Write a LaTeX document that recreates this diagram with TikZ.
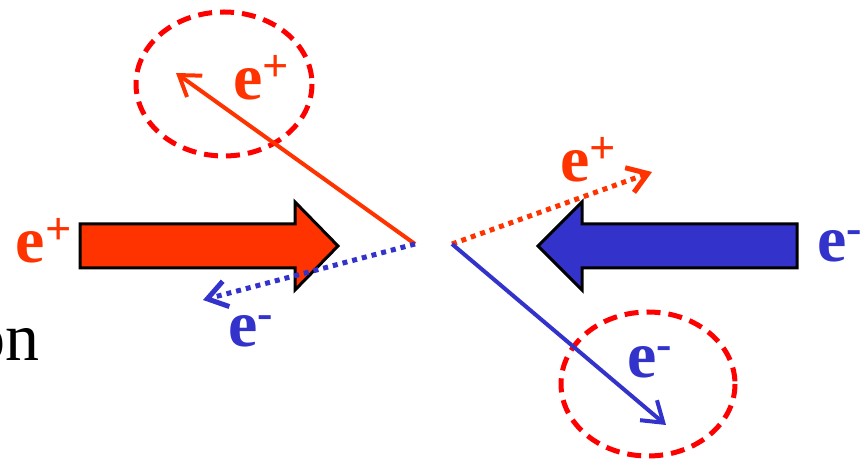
\documentclass[tikz,border=0pt]{standalone}
\usepackage{fontspec}
\setmainfont{Liberation Serif}
\usetikzlibrary{arrows.meta}
\definecolor{posred}{HTML}{FF3300}
\definecolor{elblue}{HTML}{3333CC}

\begin{document}
\begin{tikzpicture}[x=0.5pt,y=-0.5pt,line width=2pt,>={Straight Barb[length=3.4mm,width=4.6mm]},
  lbl/.style={font=\fontsize{33}{36}\selectfont\bfseries,inner sep=0pt,anchor=base west},
  dottrk/.style={line width=2.5pt,dash pattern=on 2.5pt off 2.5pt},
  halo/.style={red,line width=2.5pt,dash pattern=on 7pt off 4pt}]
  \useasboundingbox (0,0) rectangle (861,459);
  % beams
  \filldraw[fill=posred,draw=black,line width=1.5pt] (80,224) -- (295,224) -- (295,202) -- (338,246)
    -- (295,290) -- (295,268) -- (80,268) -- cycle;
  \filldraw[fill=elblue,draw=black,line width=1.5pt] (797,224) -- (582,224) -- (582,202) -- (538,246)
    -- (582,290) -- (582,268) -- (797,268) -- cycle;
  % vertices and track ends
  \coordinate (vtxL) at (415,244);
  \coordinate (vtxR) at (452,244);
  \coordinate (posUp) at (176,73);
  \coordinate (eleLeft) at (203,300);
  \coordinate (posRight) at (652,172);
  \coordinate (eleDown) at (666,425);
  % halos
  \draw[halo] (224,84) ellipse (88 and 72);
  \draw[halo] (648,384) ellipse (87 and 72);
  % tracks
  \draw[->,posred] (vtxL) -- (posUp);
  \draw[->,elblue,dottrk] (vtxL) -- (eleLeft);
  \draw[->,posred,dottrk] (vtxR) -- (posRight);
  \draw[->,elblue] (vtxR) -- (eleDown);
  % labels
  \node[lbl,posred] (lblBeamPos) at (14,263) {e\textsuperscript{+}};
  \node[lbl,elblue] (lblBeamEle) at (815,262) {e\textsuperscript{-}};
  \node[lbl,posred] (lblPosUp) at (231,100) {e\textsuperscript{+}};
  \node[lbl,posred] (lblPosRight) at (558,182) {e\textsuperscript{+}};
  \node[lbl,elblue] (lblEleLeft) at (226,347) {e\textsuperscript{-}};
  \node[lbl,elblue] (lblEleDown) at (625,378) {e\textsuperscript{-}};
  \node[font=\fontsize{34}{36}\selectfont,inner sep=0pt,anchor=base west] (lblOn) at (-30,360) {on};
\end{tikzpicture}
\end{document}
